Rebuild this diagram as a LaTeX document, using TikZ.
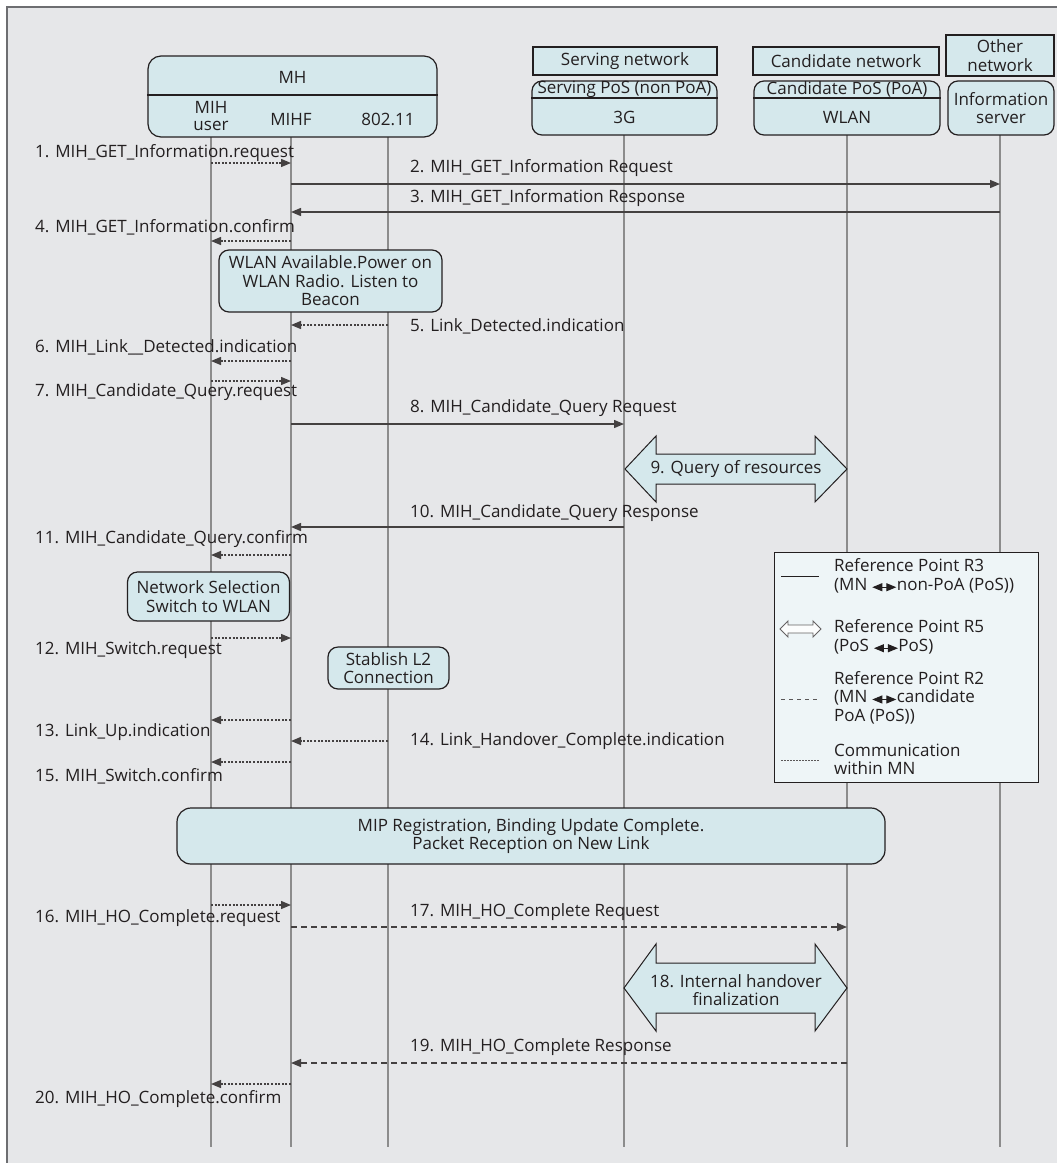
\documentclass[tikz,border=0pt]{standalone}
\usepackage{fontspec}
\setmainfont{Open Sans}
\usetikzlibrary{arrows.meta}
\definecolor{bg}{HTML}{E6E7E9}
\definecolor{boxfill}{HTML}{D5E8EC}
\definecolor{legfill}{HTML}{EEF5F7}
\definecolor{ink}{HTML}{231F20}
\definecolor{life}{HTML}{8C8C8C}
\definecolor{framec}{HTML}{6D6E71}
\newcommand{\lrarr}{\tikz[baseline=-0.35ex]\draw[draw=ink,fill=ink,line width=1pt,{Triangle[length=10pt,width=8pt]}-{Triangle[length=10pt,width=8pt]}] (0pt,0pt) -- (24pt,0pt);}
\tikzset{
  every node/.style={font=\fontsize{17}{18.5}\selectfont, text=ink, inner sep=0pt},
  hbox/.style={draw=ink, line width=1.2pt, fill=boxfill, rounded corners=10pt},
  nbox/.style={draw=ink, line width=1.2pt, fill=boxfill},
  lifeline/.style={draw=life, line width=1.3pt},
  tip/.style={-{Triangle[length=10pt,width=8pt]}},
  solidmsg/.style={draw=ink!85, line width=1.4pt, tip},
  dashmsg/.style={draw=ink!85, line width=1.3pt, dash pattern=on 6pt off 4pt, tip},
  dotmsg/.style={draw=ink!85, line width=1.3pt, dash pattern=on 2pt off 1.6pt, tip},
  lab/.style={anchor=west},
  blockarrow/.style={draw=ink, line width=1pt, fill=boxfill},
  legtext/.style={anchor=west, align=left},
}
\begin{document}
\begin{tikzpicture}[x=1pt,y=-1pt]
\useasboundingbox (0,0) rectangle (1057,1163);
\fill[white] (0,0) rectangle (1057,1163);
\fill[bg] (7,7) rectangle (1057,1163);
\draw[framec, line width=2pt] (7,1163) -- (7,7) -- (1057,7);

% lifeline anchors
\coordinate (Xuser) at (211,137);
\coordinate (Xmihf) at (291,137);
\coordinate (Xwifi) at (388,137);
\coordinate (X3g) at (624,135);
\coordinate (Xwlan) at (847,135);
\coordinate (Xis) at (1000,135);
\foreach \c in {Xuser,Xmihf,Xwifi,X3g,Xwlan,Xis}
  \draw[lifeline] (\c) -- (\c |- 0,1147);

% header: MH
\node[hbox, rounded corners=13pt, minimum width=289pt, minimum height=81pt] (mh) at (292.5,96.5) {};
\draw[ink, line width=1.2pt] (mh.west |- 0,95) -- (mh.east |- 0,95);
\node (mhT) at (292.5,77) {MH};
\node[align=center, font=\fontsize{17}{17.5}\selectfont] (mihuser) at (211,116) {MIH\\user};
\node (mihf) at (291,119) {MIHF};
\node (w80211) at (388,119) {802.11};

% header: networks
\node[nbox, minimum width=184pt, minimum height=28pt] (servnet) at (625,61) {Serving network};
\node[nbox, minimum width=186pt, minimum height=28pt] (candnet) at (846,61) {Candidate network};
\node[nbox, minimum width=108pt, minimum height=41pt, align=center] (othnet) at (1000,55.5) {Other\\network};

\node[hbox, minimum width=185pt, minimum height=54pt] (servpos) at (624.5,108) {};
\draw[ink, line width=1.2pt] (servpos.west |- 0,98) -- (servpos.east |- 0,98);
\node (servposT) at (624.5,89.5) {Serving PoS (non PoA)};
\node (g3) at (624.5,117.5) {3G};

\node[hbox, minimum width=186pt, minimum height=54pt] (candpos) at (847,108) {};
\draw[ink, line width=1.2pt] (candpos.west |- 0,98) -- (candpos.east |- 0,98);
\node (candposT) at (847,89.5) {Candidate PoS (PoA)};
\node (wlan) at (847,117.5) {WLAN};

\node[hbox, minimum width=106pt, minimum height=54pt, align=center] (infosrv) at (1001,108) {Information\\server};

% messages
\draw[dotmsg]   (Xuser |- 0,163) -- (Xmihf |- 0,163);
\draw[solidmsg] (Xmihf |- 0,184) -- (Xis |- 0,184);
\draw[solidmsg] (Xis |- 0,212) -- (Xmihf |- 0,212);
\draw[dotmsg]   (Xmihf |- 0,241) -- (Xuser |- 0,241);
\node[hbox, minimum width=223pt, minimum height=62pt, align=center] (wlanav) at (330.5,281) {WLAN Available.Power on\\WLAN Radio. Listen to\\Beacon};
\draw[dotmsg]   (Xwifi |- 0,325) -- (Xmihf |- 0,325);
\draw[dotmsg]   (Xmihf |- 0,361) -- (Xuser |- 0,361);
\draw[dotmsg]   (Xuser |- 0,381) -- (Xmihf |- 0,381);
\draw[solidmsg] (Xmihf |- 0,424) -- (X3g |- 0,424);
\draw[solidmsg] (X3g |- 0,527) -- (Xmihf |- 0,527);
\draw[dotmsg]   (Xmihf |- 0,555) -- (Xuser |- 0,555);
\node[hbox, minimum width=162pt, minimum height=49pt, align=center] (netsel) at (208.5,596.5) {Network Selection\\Switch to WLAN};
\draw[dotmsg]   (Xuser |- 0,638) -- (Xmihf |- 0,638);
\node[hbox, minimum width=121pt, minimum height=42pt, align=center] (stabl2) at (388.5,668) {Stablish L2\\Connection};
\draw[dotmsg]   (Xmihf |- 0,720) -- (Xuser |- 0,720);
\draw[dotmsg]   (Xwifi |- 0,741) -- (Xmihf |- 0,741);
\draw[dotmsg]   (Xmihf |- 0,762) -- (Xuser |- 0,762);
\node[hbox, rounded corners=14pt, minimum width=708pt, minimum height=56pt, align=center] (mip) at (531,836) {MIP Registration, Binding Update Complete.\\Packet Reception on New Link};
\draw[dotmsg]   (Xuser |- 0,905) -- (Xmihf |- 0,905);
\draw[dashmsg]  (Xmihf |- 0,927) -- (Xwlan |- 0,927);
\draw[dashmsg]  (Xwlan |- 0,1063) -- (Xmihf |- 0,1063);
\draw[dotmsg]   (Xmihf |- 0,1084) -- (Xuser |- 0,1084);

% block arrows
\draw[blockarrow] (625,469) -- (656,436) -- (656,454) -- (815,454) -- (815,436) -- (847,469) -- (815,502) -- (815,484) -- (656,484) -- (656,502) -- cycle;
\node (q9) at (736,469) {9. Query of resources};
\draw[blockarrow] (624,988) -- (656,944) -- (656,963) -- (815,963) -- (815,944) -- (847,988) -- (815,1031) -- (815,1013) -- (656,1013) -- (656,1031) -- cycle;
\node[align=center] (h18) at (736,990) {18. Internal handover\\finalization};

% left labels
\node[lab] (l1) at (35,153) {1. MIH\_GET\_Information.request};
\node[lab] (l4) at (35,227) {4. MIH\_GET\_Information.confirm};
\node[lab] (l6) at (35,347) {6. MIH\_Link\_\_Detected.indication};
\node[lab] (l7) at (35,392) {7. MIH\_Candidate\_Query.request};
\node[lab] (l11) at (35,539) {11. MIH\_Candidate\_Query.confirm};
\node[lab] (l12) at (35,650) {12. MIH\_Switch.request};
\node[lab] (l13) at (35,732) {13. Link\_Up.indication};
\node[lab] (l15) at (35,776) {15. MIH\_Switch.confirm};
\node[lab] (l16) at (35,918) {16. MIH\_HO\_Complete.request};
\node[lab] (l20) at (35,1099) {20. MIH\_HO\_Complete.confirm};
% right labels
\node[lab] (l2) at (410,168) {2. MIH\_GET\_Information Request};
\node[lab] (l3) at (410,198) {3. MIH\_GET\_Information Response};
\node[lab] (l5) at (410,326) {5. Link\_Detected.indication};
\node[lab] (l8) at (410,408) {8. MIH\_Candidate\_Query Request};
\node[lab] (l10) at (410,513) {10. MIH\_Candidate\_Query Response};
\node[lab] (l14) at (410,741) {14. Link\_Handover\_Complete.indication};
\node[lab] (l17) at (410,912) {17. MIH\_HO\_Complete Request};
\node[lab] (l19) at (410,1047) {19. MIH\_HO\_Complete Response};

% legend
\node[draw=ink, line width=1pt, fill=legfill, minimum width=264pt, minimum height=230pt] (legend) at (906,667) {};
\coordinate (s1a) at (781,576); \coordinate (s1b) at (819,576);
\draw[ink, line width=1pt] (s1a) -- (s1b);
\draw[draw=ink!70, fill=white!80!legfill, line width=0.9pt] (780,629) -- (788,621) -- (788,625) -- (813,625) -- (813,621) -- (821,629) -- (813,637) -- (813,633) -- (788,633) -- (788,637) -- cycle;
\coordinate (s3a) at (781,699); \coordinate (s3b) at (819,699);
\draw[ink!75, line width=1pt, dash pattern=on 4pt off 4pt] (s3a) -- (s3b);
\coordinate (s4a) at (781,760); \coordinate (s4b) at (819,760);
\draw[ink!75, line width=1pt, dash pattern=on 1.5pt off 1.5pt] (s4a) -- (s4b);
\node[legtext] (t1) at (834,576) {Reference Point R3\\(MN \lrarr{}non-PoA (PoS))};
\node[legtext] (t2) at (834,637) {Reference Point R5\\(PoS \lrarr{}PoS)};
\node[legtext] (t3) at (834,697.5) {Reference Point R2\\(MN \lrarr{}candidate\\PoA (PoS))};
\node[legtext] (t4) at (834,759.5) {Communication\\within MN};
\end{tikzpicture}
\end{document}
